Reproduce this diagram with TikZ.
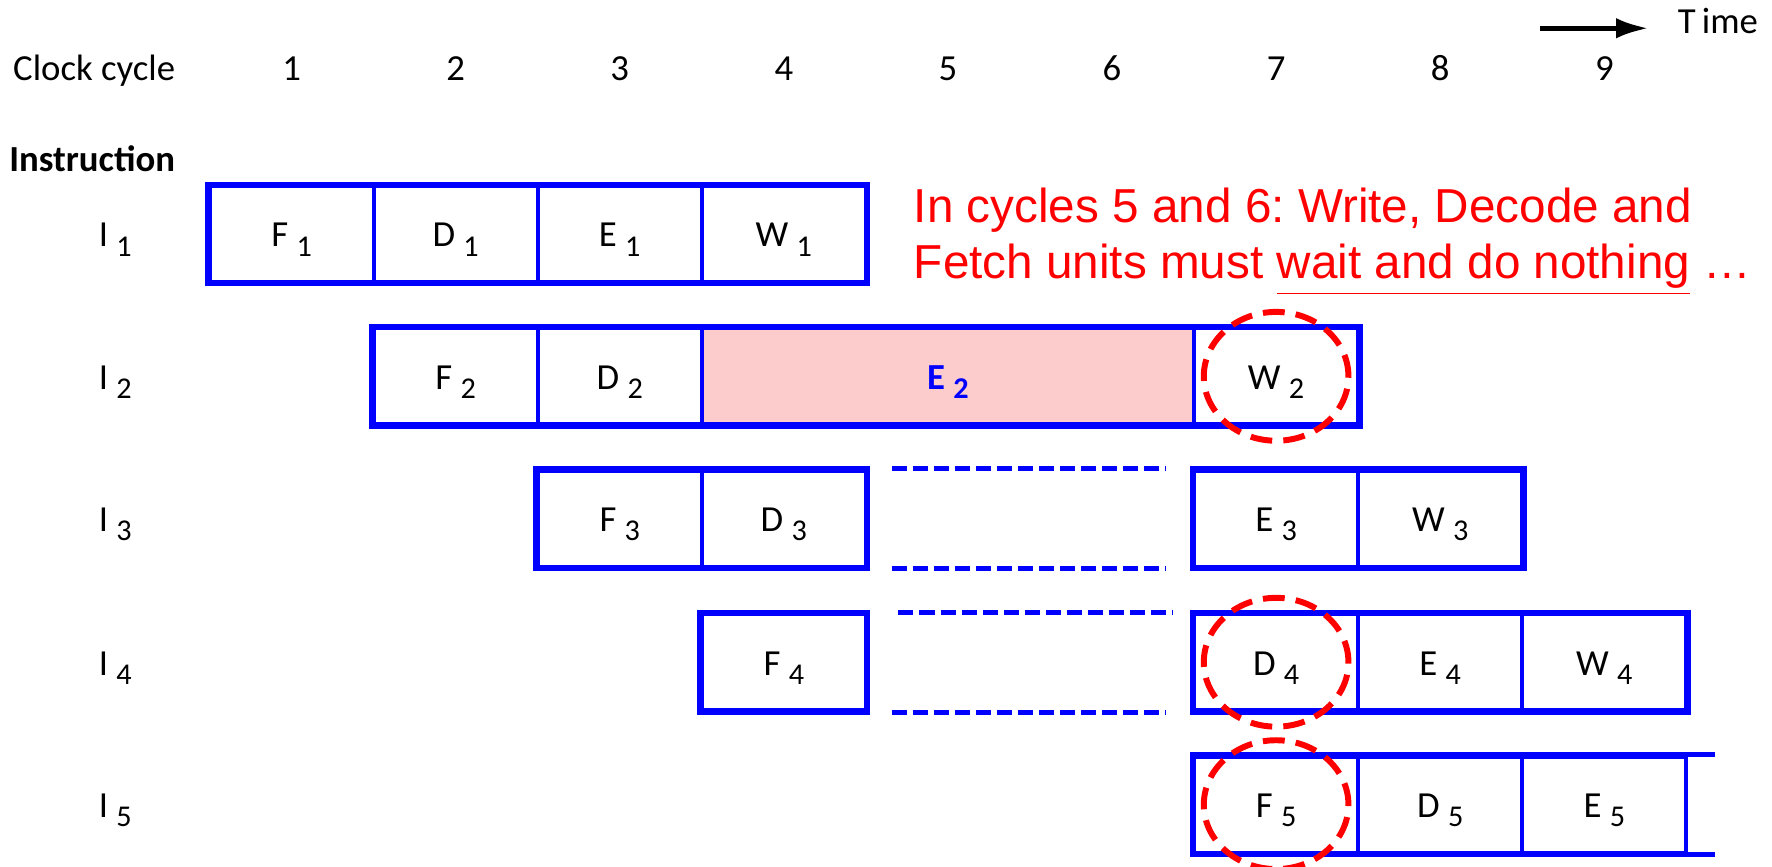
\documentclass[tikz,border=0pt]{standalone}
\usepackage{fontspec}
\setmainfont{Carlito}
\newfontfamily\notefont{Liberation Sans}
\usepackage{tikz}
\usetikzlibrary{arrows.meta}
\definecolor{pipeblue}{RGB}{0,0,255}
\definecolor{stallpink}{RGB}{252,204,204}
\definecolor{notered}{RGB}{255,0,0}
\newcommand{\cycfont}{\fontsize{9.25}{11}\selectfont}
\newcommand{\lowidx}[1]{\raisebox{-2.3pt}{\fontsize{7.6}{8}\selectfont #1}}
\frenchspacing
\tikzset{
  stagebox/.style={draw=pipeblue, line width=1pt, minimum width=1.452cm, minimum height=0.85cm, inner sep=0pt, font=\cycfont, text height=0.23cm, text depth=0pt},
  stallbox/.style={stagebox, fill=stallpink, minimum width=4.356cm, text=pipeblue, font=\cycfont\bfseries},
  rowframe/.style={draw=pipeblue, line width=1.2pt},
  waitline/.style={draw=pipeblue, line width=1.3pt, dash pattern=on 3.8pt off 1.5pt},
  ring/.style={draw=notered, line width=1.5pt, dash pattern=on 5.5pt off 2.8pt},
  cyclabel/.style={font=\cycfont, anchor=base, inner sep=0pt},
  rowlabel/.style={font=\cycfont, inner sep=0pt, text height=0.23cm, text depth=0pt},
  notetext/.style={font=\notefont\fontsize{12}{14}\selectfont, text=notered, anchor=base west, inner sep=0pt},
  timearrow/.style={-{Latex[length=2.9mm,width=1.8mm]}, draw=black, line width=1.3pt}
}

\begin{document}
\begin{tikzpicture}[x=1cm,y=1cm]
  \useasboundingbox (0,0) rectangle (15.68,7.67);

  \node[cyclabel, anchor=base west] (clockLbl) at (0.11,6.96) {Clock cycle};
  \node[cyclabel] (cyc1) at (2.580,6.96) {1};
  \node[cyclabel] (cyc2) at (4.032,6.96) {2};
  \node[cyclabel] (cyc3) at (5.484,6.96) {3};
  \node[cyclabel] (cyc4) at (6.936,6.96) {4};
  \node[cyclabel] (cyc5) at (8.388,6.96) {5};
  \node[cyclabel] (cyc6) at (9.840,6.96) {6};
  \node[cyclabel] (cyc7) at (11.292,6.96) {7};
  \node[cyclabel] (cyc8) at (12.744,6.96) {8};
  \node[cyclabel] (cyc9) at (14.196,6.96) {9};

  \coordinate (timeStart) at (13.63,7.42);
  \coordinate (timeEnd) at (14.59,7.42);
  \node[cyclabel, anchor=base west] (timeLbl) at (14.84,7.375) {T\,ime};
  \draw[timearrow] (timeStart) -- (timeEnd);

  \node[cyclabel, anchor=base west, font=\cycfont\bfseries] (instrLbl) at (0.076,6.15) {Instruction};

  \node[rowlabel] (instr1) at (1.02,5.60) {I\ \lowidx{1}};
  \node[rowlabel] (instr2) at (1.02,4.34) {I\ \lowidx{2}};
  \node[rowlabel] (instr3) at (1.02,3.08) {I\ \lowidx{3}};
  \node[rowlabel] (instr4) at (1.02,1.81) {I\ \lowidx{4}};
  \node[rowlabel] (instr5) at (1.02,0.55) {I\ \lowidx{5}};

  \node[stagebox] (F1) at (2.580,5.60) {F\ \lowidx{1}};
  \node[stagebox] (D1) at (4.032,5.60) {D\ \lowidx{1}};
  \node[stagebox] (E1) at (5.484,5.60) {E\ \lowidx{1}};
  \node[stagebox] (W1) at (6.936,5.60) {W\ \lowidx{1}};

  \node[stagebox] (F2) at (4.032,4.34) {F\ \lowidx{2}};
  \node[stagebox] (D2) at (5.484,4.34) {D\ \lowidx{2}};
  \node[stallbox] (E2) at (8.388,4.34) {E\ \lowidx{2}};
  \node[stagebox] (W2) at (11.292,4.34) {W\ \lowidx{2}};

  \node[stagebox] (F3) at (5.484,3.08) {F\ \lowidx{3}};
  \node[stagebox] (D3) at (6.936,3.08) {D\ \lowidx{3}};
  \node[stagebox] (E3) at (11.292,3.08) {E\ \lowidx{3}};
  \node[stagebox] (W3) at (12.744,3.08) {W\ \lowidx{3}};

  \node[stagebox] (F4) at (6.936,1.81) {F\ \lowidx{4}};
  \node[stagebox] (D4) at (11.292,1.81) {D\ \lowidx{4}};
  \node[stagebox] (E4) at (12.744,1.81) {E\ \lowidx{4}};
  \node[stagebox] (W4) at (14.196,1.81) {W\ \lowidx{4}};

  \node[stagebox] (F5) at (11.292,0.55) {F\ \lowidx{5}};
  \node[stagebox] (D5) at (12.744,0.55) {D\ \lowidx{5}};
  \node[stagebox] (E5) at (14.196,0.55) {E\ \lowidx{5}};

  \draw[rowframe] (F1.north west) rectangle (W1.south east);
  \draw[rowframe] (F2.north west) rectangle (W2.south east);
  \draw[rowframe] (F3.north west) rectangle (D3.south east);
  \draw[rowframe] (E3.north west) rectangle (W3.south east);
  \draw[rowframe] (F4.north west) rectangle (F4.south east);
  \draw[rowframe] (D4.north west) rectangle (W4.south east);
  \draw[rowframe] ([xshift=0.24cm]E5.north east) -- (F5.north west) -- (F5.south west) -- ([xshift=0.24cm]E5.south east);

  \draw[waitline] ([xshift=0.21cm]D3.north east) -- ([xshift=-0.23cm]E3.north west);
  \draw[waitline] ([xshift=0.21cm]D3.south east) -- ([xshift=-0.23cm]E3.south west);
  \draw[waitline] ([xshift=0.27cm]F4.north east) -- ([xshift=-0.17cm]D4.north west);
  \draw[waitline] ([xshift=0.21cm]F4.south east) -- ([xshift=-0.23cm]D4.south west);

  \draw[ring] (W2.center) ellipse [x radius=0.64, y radius=0.57];
  \draw[ring] (D4.center) ellipse [x radius=0.64, y radius=0.57];
  \draw[ring] (F5.center) ellipse [x radius=0.64, y radius=0.57];

  \node[notetext] (noteA) at (8.08,5.70) {In cycles 5 and 6: Write, Decode and};
  \node[notetext] (noteB) at (8.08,5.21) {Fetch units must \underline{wait and do nothing} …};
\end{tikzpicture}
\end{document}
